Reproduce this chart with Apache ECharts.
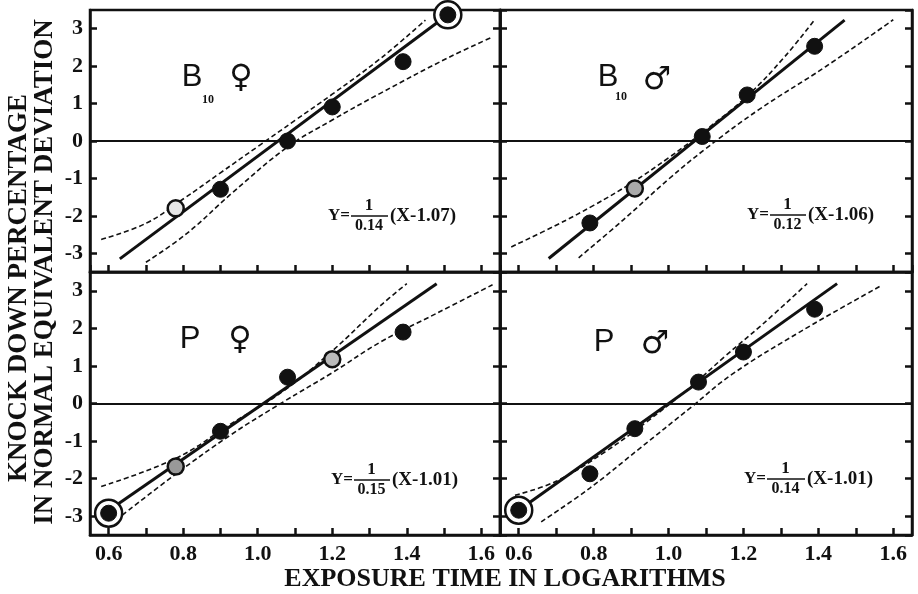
<!DOCTYPE html>
<html><head><meta charset="utf-8">
<script src="https://cdn.jsdelivr.net/npm/echarts@6/dist/echarts.min.js"></script>
<style>html,body{margin:0;padding:0;background:#fff}#c{width:918px;height:594px}</style>
</head><body><div id="c"></div>
<script>
// ---------- data ----------
const xTickLabels = ['0.6','0.8','1.0','1.2','1.4','1.6'];
const yTickLabels = ['-3','-2','-1','0','1','2','3'];
const panelTitles = ['B', 'B', 'P', 'P'];
const panelSubs = ['10', '10', '', ''];
const panelSex = ['\u2640', '\u2642', '\u2640', '\u2642'];
const eqNum = ['1', '1', '1', '1'];
const eqDen = ['0.14', '0.12', '0.15', '0.14'];
const eqRest = ['(X-1.07)', '(X-1.06)', '(X-1.01)', '(X-1.01)'];

// B10 female
const tlObsX = [0.78, 0.90, 1.08, 1.20, 1.39, 1.51];
const tlObsY = [-1.80, -1.29, 0.00, 0.91, 2.12, 3.37];
const tlFitX = [0.63, 1.50];
const tlFitY = [-3.15, 3.30];
const tlUpX = [0.58, 0.70, 0.80, 0.90, 1.00, 1.10, 1.20, 1.33, 1.45];
const tlUpY = [-2.63, -2.20, -1.55, -0.85, -0.15, 0.55, 1.25, 2.21, 3.23];
const tlLoX = [0.70, 0.81, 0.93, 1.08, 1.20, 1.33, 1.51, 1.63];
const tlLoY = [-3.24, -2.47, -1.40, -0.16, 0.56, 1.28, 2.22, 2.78];

// B10 male
const trObsX = [0.79, 0.91, 1.09, 1.21, 1.39];
const trObsY = [-2.19, -1.27, 0.12, 1.23, 2.53];
const trFitX = [0.68, 1.47];
const trFitY = [-3.14, 3.23];
const trUpX = [0.58, 0.70, 0.80, 0.90, 1.00, 1.10, 1.21, 1.31, 1.39];
const trUpY = [-2.83, -2.25, -1.72, -1.13, -0.45, 0.30, 1.20, 2.25, 3.24];
const trLoX = [0.76, 0.88, 1.00, 1.10, 1.24, 1.42, 1.60];
const trLoY = [-3.12, -2.10, -1.02, -0.20, 0.83, 1.99, 3.24];

// P female
const blObsX = [0.60, 0.78, 0.90, 1.08, 1.20, 1.39];
const blObsY = [-2.92, -1.68, -0.74, 0.70, 1.18, 1.90];
const blFitX = [0.60, 1.48];
const blFitY = [-2.85, 3.19];
const blUpX = [0.58, 0.78, 0.93, 1.07, 1.20, 1.33, 1.40];
const blUpY = [-2.21, -1.46, -0.53, 0.34, 1.40, 2.61, 3.19];
const blLoX = [0.62, 0.78, 0.93, 1.07, 1.20, 1.33, 1.48, 1.63];
const blLoY = [-3.10, -1.88, -0.82, 0.05, 0.82, 1.64, 2.40, 3.16];

// P male
const brObsX = [0.60, 0.79, 0.91, 1.08, 1.20, 1.39];
const brObsY = [-2.84, -1.87, -0.67, 0.57, 1.37, 2.51];
const brFitX = [0.60, 1.45];
const brFitY = [-2.84, 3.19];
const brUpX = [0.59, 0.70, 0.83, 0.94, 1.06, 1.15, 1.25, 1.37];
const brUpY = [-2.44, -2.07, -1.29, -0.50, 0.45, 1.25, 2.10, 3.19];
const brLoX = [0.66, 0.79, 0.92, 1.06, 1.17, 1.35, 1.57];
const brLoY = [-3.15, -2.25, -1.22, -0.10, 0.78, 1.90, 3.15];

// ---------- build ----------
const INK = '#111';
const TICK = INK;
const zip = (xs, ys) => xs.map((x, i) => [x, ys[i]]);
const panels = [
  {obs: zip(tlObsX, tlObsY), fit: zip(tlFitX, tlFitY), up: zip(tlUpX, tlUpY), lo: zip(tlLoX, tlLoY), big: [5], hollow: {0: '#e6e6e6'}},
  {obs: zip(trObsX, trObsY), fit: zip(trFitX, trFitY), up: zip(trUpX, trUpY), lo: zip(trLoX, trLoY), big: [], hollow: {1: '#aaa'}},
  {obs: zip(blObsX, blObsY), fit: zip(blFitX, blFitY), up: zip(blUpX, blUpY), lo: zip(blLoX, blLoY), big: [0], hollow: {1: '#999', 4: '#bbb'}},
  {obs: zip(brObsX, brObsY), fit: zip(brFitX, brFitY), up: zip(brUpX, brUpY), lo: zip(brLoX, brLoY), big: [0], hollow: {}}
];

const grids = [
  {left: 90, top: 10, width: 410, height: 262},
  {left: 500, top: 10, width: 412, height: 262},
  {left: 90, top: 272, width: 410, height: 263},
  {left: 500, top: 272, width: 412, height: 263}
].map(g => Object.assign(g, {show: true, borderColor: INK, borderWidth: 2.5, backgroundColor: 'transparent'}));

const labelFont = {fontFamily: '"Liberation Serif", serif', fontWeight: 'bold', fontSize: 22, color: INK};
const findLabel = (arr, v) => { const s = arr.find(t => Math.abs(parseFloat(t) - v) < 1e-6); return s || ''; };

const xAxes = grids.map((g, i) => ({
  type: 'value', gridIndex: i, min: 0.55, max: 1.65, splitNumber: 11,
  axisLine: {show: true, onZero: false, lineStyle: {color: INK, width: 2.5}},
  axisTick: {show: true, inside: true, length: 7, lineStyle: {color: TICK, width: 2.5}},
  axisLabel: Object.assign({show: i >= 2, margin: 8, showMinLabel: false, showMaxLabel: false,
    formatter: v => findLabel(xTickLabels, v)}, labelFont),
  splitLine: {show: false}
}));

const yAxes = [];
grids.forEach((g, i) => {
  const left = (i % 2 === 0);
  const base = {type: 'value', gridIndex: i, min: -3.5, max: 3.5, splitNumber: 7, splitLine: {show: false}};
  yAxes.push(Object.assign({}, base, {
    position: 'left',
    axisLine: {show: true, onZero: false, lineStyle: {color: INK, width: 2.5}},
    axisTick: {show: true, inside: left, length: 7, lineStyle: {color: TICK, width: 2.5}},
    axisLabel: Object.assign({show: left, margin: 7, showMinLabel: false, showMaxLabel: false,
      formatter: v => findLabel(yTickLabels, v)}, labelFont)
  }));
  yAxes.push(Object.assign({}, base, {
    position: 'right',
    axisLine: {show: true, onZero: false, lineStyle: {color: INK, width: 2.5}},
    axisTick: {show: true, inside: !left, length: 7, lineStyle: {color: TICK, width: 2.5}},
    axisLabel: {show: false}
  }));
});

const series = [];
panels.forEach((p, i) => {
  const yi = i * 2;
  series.push({
    type: 'line', xAxisIndex: i, yAxisIndex: yi, data: p.fit, symbol: 'none',
    lineStyle: {color: INK, width: 3}, z: 3, silent: true,
    markLine: {silent: true, symbol: ['none', 'none'], label: {show: false},
      lineStyle: {color: INK, width: 2, type: 'solid'}, data: [{yAxis: 0}]}
  });
  [p.up, p.lo].forEach(d => series.push({
    type: 'line', xAxisIndex: i, yAxisIndex: yi, data: d, symbol: 'none', smooth: 0.4,
    lineStyle: {color: INK, width: 1.6, type: [5, 3]}, z: 2, silent: true
  }));
  series.push({
    type: 'scatter', xAxisIndex: i, yAxisIndex: yi, symbol: 'circle', symbolSize: 16, z: 5, clip: false,
    data: p.obs.map((pt, k) => p.hollow[k] ? {value: pt, itemStyle: {color: p.hollow[k], borderColor: INK, borderWidth: 2.5, opacity: 1}} : {value: pt}),
    itemStyle: {color: INK, borderColor: INK, borderWidth: 1, opacity: 1}
  });
  if (p.big.length) series.push({
    type: 'scatter', xAxisIndex: i, yAxisIndex: yi, symbol: 'circle', symbolSize: 27, z: 4, clip: false,
    data: p.big.map(k => p.obs[k]),
    itemStyle: {color: '#fff', borderColor: INK, borderWidth: 2.5, opacity: 1}
  });
});

// ---------- text ----------
const serif = '"Liberation Serif", "Times New Roman", serif';
const txt = (x, y, text, font, align, valign, extra) => Object.assign({
  type: 'text', x: x, y: y, silent: true,
  style: {text: text, font: font, fill: INK, align: align, verticalAlign: valign, textAlign: align, textVerticalAlign: valign}
}, extra || {});

const graphic = [];
graphic.push(txt(19, 288, 'KNOCK DOWN PERCENTAGE', 'bold 27px ' + serif, 'center', 'middle', {rotation: Math.PI / 2}));
graphic.push(txt(45, 272, 'IN NORMAL EQUIVALENT DEVIATION', 'bold 27px ' + serif, 'center', 'middle', {rotation: Math.PI / 2}));
graphic.push(txt(505, 579, 'EXPOSURE TIME IN LOGARITHMS', 'bold 26px ' + serif, 'center', 'middle'));

const titlePos = [
  {b: [192, 77], s: [208, 100], x: [241, 79]},
  {b: [608, 77], s: [621, 97], x: [657, 81]},
  {b: [190, 339], s: [0, 0], x: [240, 341]},
  {b: [604, 342], s: [0, 0], x: [655, 345]}
];
titlePos.forEach((t, i) => {
  graphic.push(txt(t.b[0], t.b[1], panelTitles[i], '31px "Liberation Sans", Arial, sans-serif', 'center', 'middle'));
  if (panelSubs[i]) graphic.push(txt(t.s[0], t.s[1], panelSubs[i], 'bold 12px ' + serif, 'center', 'middle'));
  graphic.push(txt(t.x[0], t.x[1], panelSex[i], '32px "DejaVu Sans", sans-serif', 'center', 'middle'));
});

const eqPos = [
  {x: 350, y: 216, w: 38},
  {x: 769, y: 215, w: 37},
  {x: 353, y: 480, w: 37},
  {x: 766, y: 479, w: 39}
];
eqPos.forEach((e, i) => {
  graphic.push(txt(e.x, e.y, 'Y=', 'bold 17px ' + serif, 'right', 'middle'));
  graphic.push({type: 'line', silent: true, shape: {x1: e.x + 1, y1: e.y, x2: e.x + e.w, y2: e.y}, style: {stroke: INK, lineWidth: 1.6}});
  graphic.push(txt(e.x + e.w / 2, e.y - 2, eqNum[i], 'bold 17px ' + serif, 'center', 'bottom'));
  graphic.push(txt(e.x + e.w / 2, e.y + 2, eqDen[i], 'bold 16px ' + serif, 'center', 'top'));
  graphic.push(txt(e.x + e.w + 2, e.y, eqRest[i], 'bold 19px ' + serif, 'left', 'middle'));
});

const chart = echarts.init(document.getElementById('c'));
chart.setOption({
  backgroundColor: '#fff',
  animation: false,
  grid: grids,
  xAxis: xAxes,
  yAxis: yAxes,
  series: series,
  graphic: graphic
});
</script></body></html>
